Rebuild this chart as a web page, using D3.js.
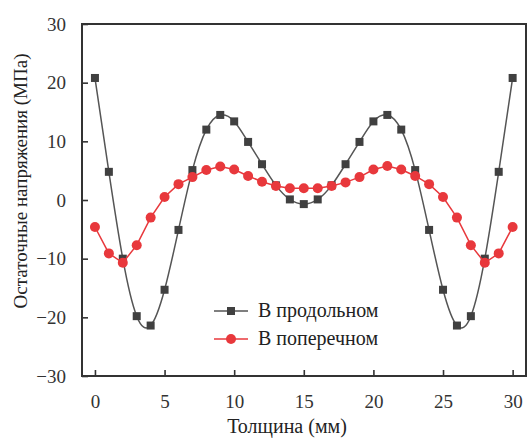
<!DOCTYPE html>
<html>
<head>
<meta charset="utf-8">
<script src="https://cdn.jsdelivr.net/npm/d3@7"></script>
<style>
    body { margin: 0; background: #fff; }
    svg { display: block; }
</style>
</head>
<body>
<svg id="chart" width="529" height="440"></svg>
<script>
const thickness = [0, 1, 2, 3, 4, 5, 6, 7, 8, 9, 10, 11, 12, 13, 14, 15,
    16, 17, 18, 19, 20, 21, 22, 23, 24, 25, 26, 27, 28, 29, 30];

// продольное напряжение (MPa)
const longitudinal = [20.8, 4.8, -10.0, -19.8, -21.4, -15.3, -5.1, 5.1, 12.0, 14.5, 13.4, 9.9, 6.1, 2.5, 0.1, -0.7,
    0.1, 2.5, 6.1, 9.9, 13.4, 14.5, 12.0, 5.1, -5.1, -15.3, -21.4, -19.8, -10.0, 4.8, 20.8];

// поперечное напряжение (MPa)
const transverse = [-4.6, -9.1, -10.7, -7.7, -3.0, 0.5, 2.7, 3.9, 5.1, 5.7, 5.2, 4.1, 3.1, 2.4, 2.0, 2.0,
    2.0, 2.4, 3.0, 3.9, 5.2, 5.8, 5.2, 4.1, 2.7, 0.5, -3.0, -7.7, -10.7, -9.1, -4.6];

const xTicks = [0, 5, 10, 15, 20, 25, 30];
const yTicks = [-30, -20, -10, 0, 10, 20, 30];
const seriesNames = ['В продольном', 'В поперечном'];

const xLabel = 'Толщина (мм)';
const yLabel = 'Остаточные напряжения (МПа)';

const box = {left: 82, right: 526, top: 24, bottom: 376};
const fontFamily = "'Liberation Serif', 'Times New Roman', serif";
const blackColor = '#404040';
const redColor = '#e8383c';

function drawChart () {
    const svg = d3.select('#chart');

    const x = d3.scaleLinear().domain([-0.93, 30.96]).range([box.left, box.right]);
    const y = d3.scaleLinear().domain([-30, 30]).range([box.bottom, box.top]);

    // axes with inward ticks
    const xAxis = svg.append('g')
        .attr('transform', 'translate(0,' + box.bottom + ')')
        .call(d3.axisBottom(x).tickValues(xTicks).tickSizeInner(-6).tickSizeOuter(0).tickPadding(19)
            .tickFormat(d3.format('d')));
    const yAxis = svg.append('g')
        .attr('transform', 'translate(' + box.left + ',0)')
        .call(d3.axisLeft(y).tickValues(yTicks).tickSizeInner(-6).tickSizeOuter(0).tickPadding(16)
            .tickFormat(function (d) { return d < 0 ? '\u2212' + Math.abs(d) : d; }));

    [xAxis, yAxis].forEach(function (g) {
        g.attr('font-family', null);
        g.select('.domain').remove();
        g.selectAll('.tick line').style('stroke', '#333').style('stroke-width', '1.6px');
        g.selectAll('.tick text')
            .style('font-family', fontFamily)
            .style('font-size', '19px')
            .style('fill', '#333');
    });

    // frame
    svg.append('rect')
        .attr('x', box.left)
        .attr('y', box.top)
        .attr('width', box.right - box.left)
        .attr('height', box.bottom - box.top)
        .style('fill', 'none')
        .style('stroke', '#333')
        .style('stroke-width', '2px');

    const points = function (values) {
        return thickness.map(function (t, i) { return {x: t, y: values[i]}; });
    };

    const smooth = d3.line()
        .x(function (d) { return x(d.x); })
        .y(function (d) { return y(d.y); })
        .curve(d3.curveNatural);

    const straight = d3.line()
        .x(function (d) { return x(d.x); })
        .y(function (d) { return y(d.y); });

    svg.append('path')
        .attr('d', smooth(points(longitudinal)))
        .style('fill', 'none')
        .style('stroke', '#555')
        .style('stroke-width', '1.5px');

    svg.append('g')
        .selectAll('.sq')
        .data(points(longitudinal))
        .enter()
        .append('rect')
        .attr('x', function (d) { return x(d.x) - 4; })
        .attr('y', function (d) { return y(d.y) - 4; })
        .attr('width', 8)
        .attr('height', 8)
        .style('fill', blackColor);

    svg.append('path')
        .attr('d', straight(points(transverse)))
        .style('fill', 'none')
        .style('stroke', redColor)
        .style('stroke-width', '1.5px');

    svg.append('g')
        .selectAll('.dot')
        .data(points(transverse))
        .enter()
        .append('circle')
        .attr('cx', function (d) { return x(d.x); })
        .attr('cy', function (d) { return y(d.y); })
        .attr('r', 5)
        .style('fill', redColor);

    // legend
    const legend = svg.append('g').attr('transform', 'translate(214,311)');
    const rowGap = 28;

    legend.append('line').attr('x1', 0).attr('x2', 34).attr('y1', 0).attr('y2', 0)
        .style('stroke', '#555').style('stroke-width', '1.5px');
    legend.append('rect').attr('x', 13).attr('y', -4).attr('width', 8).attr('height', 8)
        .style('fill', blackColor);
    legend.append('line').attr('x1', 0).attr('x2', 34).attr('y1', rowGap).attr('y2', rowGap)
        .style('stroke', redColor).style('stroke-width', '1.5px');
    legend.append('circle').attr('cx', 17).attr('cy', rowGap).attr('r', 5)
        .style('fill', redColor);

    legend.selectAll('.lab')
        .data(seriesNames)
        .enter()
        .append('text')
        .attr('x', 44)
        .attr('y', function (d, i) { return i * rowGap + 6; })
        .style('font-family', fontFamily)
        .style('font-size', '20px')
        .style('fill', '#222')
        .text(function (d) { return d; });

    // axis titles
    svg.append('text')
        .attr('x', 287)
        .attr('y', 433)
        .attr('text-anchor', 'middle')
        .style('font-family', fontFamily)
        .style('font-size', '20px')
        .style('fill', '#222')
        .text(xLabel);

    svg.append('text')
        .attr('transform', 'translate(27,181) rotate(-90)')
        .attr('text-anchor', 'middle')
        .style('font-family', fontFamily)
        .style('font-size', '19px')
        .style('fill', '#222')
        .text(yLabel);
}

drawChart();
</script>
</body>
</html>
